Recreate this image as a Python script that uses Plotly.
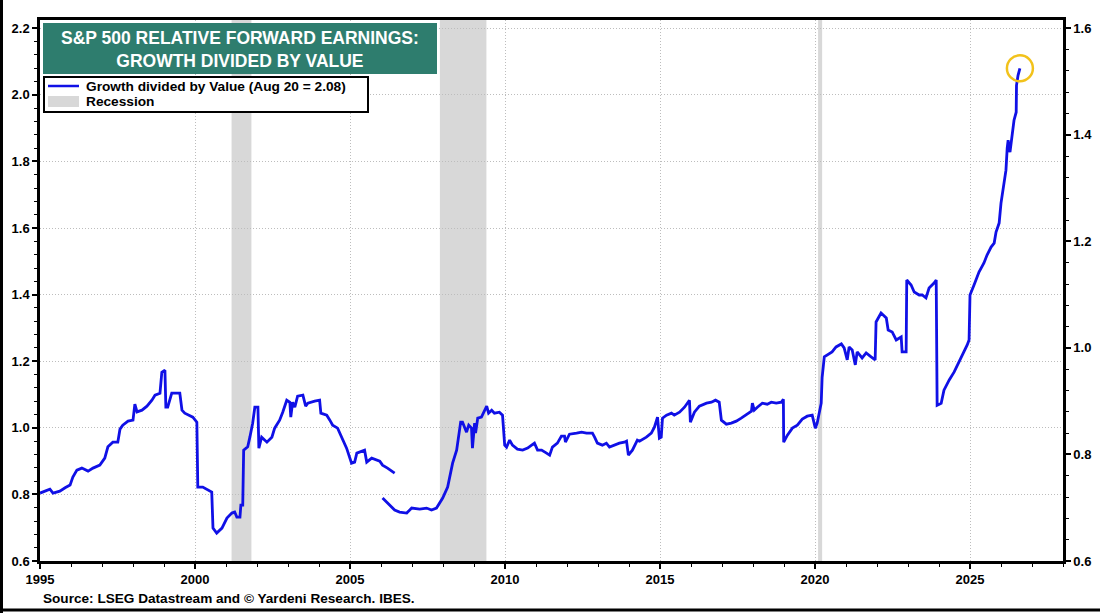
import plotly.graph_objects as go

# Growth / Value relative forward earnings
seg1_years = [1995.0, 1995.05, 1995.32, 1995.42, 1995.64, 1995.81, 1995.97, 1996.06, 1996.19, 1996.35,
              1996.55, 1996.71, 1996.93, 1997.09, 1997.19, 1997.35, 1997.51, 1997.58, 1997.67, 1997.84,
              1998.0, 1998.06, 1998.13, 1998.29, 1998.45, 1998.61, 1998.71, 1998.87, 1998.93, 1999.03,
              1999.06, 1999.12, 1999.25, 1999.51, 1999.58, 1999.67, 1999.93, 2000.06, 2000.09, 2000.25,
              2000.54, 2000.58, 2000.70, 2000.87, 2001.03, 2001.19, 2001.28, 2001.35, 2001.45, 2001.48,
              2001.54, 2001.57, 2001.70, 2001.77, 2001.86, 2001.93, 2002.03, 2002.06, 2002.15, 2002.32,
              2002.48, 2002.57, 2002.73, 2002.83, 2002.96, 2003.06, 2003.09, 2003.15, 2003.22, 2003.31,
              2003.48, 2003.57, 2003.64, 2003.86, 2004.02, 2004.06, 2004.25, 2004.35, 2004.44, 2004.60,
              2004.73, 2004.83, 2004.89, 2005.05, 2005.15, 2005.22, 2005.47, 2005.54, 2005.70, 2005.96,
              2006.05, 2006.21, 2006.44]
seg1_values = [0.804, 0.806, 0.816, 0.804, 0.81, 0.82, 0.828, 0.852, 0.873, 0.879,
               0.87, 0.879, 0.888, 0.909, 0.943, 0.957, 0.957, 0.996, 1.008, 1.02,
               1.023, 1.071, 1.048, 1.053, 1.065, 1.083, 1.098, 1.104, 1.167, 1.173,
               1.062, 1.062, 1.104, 1.104, 1.053, 1.044, 1.032, 1.017, 0.822, 0.822,
               0.807, 0.699, 0.684, 0.699, 0.729, 0.744, 0.747, 0.732, 0.732, 0.768,
               0.768, 0.933, 0.943, 0.972, 1.014, 1.062, 1.062, 0.939, 0.972, 0.957,
               0.972, 0.999, 1.023, 1.047, 1.083, 1.077, 1.032, 1.077, 1.062, 1.095,
               1.098, 1.065, 1.074, 1.08, 1.083, 1.044, 1.038, 1.023, 1.008, 0.999,
               0.972, 0.954, 0.939, 0.894, 0.897, 0.924, 0.933, 0.897, 0.909, 0.90,
               0.888, 0.879, 0.864]

seg2_years = [2006.05, 2006.18, 2006.28, 2006.44, 2006.60, 2006.83, 2006.99, 2007.25, 2007.47, 2007.63,
              2007.79, 2007.89, 2007.99, 2008.15, 2008.31, 2008.44, 2008.57, 2008.63, 2008.76, 2008.83,
              2008.92, 2008.95, 2009.02, 2009.05, 2009.12, 2009.24, 2009.41, 2009.47, 2009.57, 2009.66,
              2009.82, 2009.92, 2009.99, 2010.05, 2010.15, 2010.24, 2010.40, 2010.57, 2010.73, 2010.86,
              2010.95, 2011.05, 2011.18, 2011.34, 2011.44, 2011.53, 2011.69, 2011.82, 2011.92, 2011.95,
              2012.08, 2012.31, 2012.47, 2012.63, 2012.82, 2012.89, 2012.98, 2013.14, 2013.27, 2013.37,
              2013.53, 2013.69, 2013.85, 2013.92, 2013.98, 2014.11, 2014.27, 2014.34, 2014.56, 2014.72,
              2014.82, 2014.92, 2014.98, 2015.04, 2015.08, 2015.21, 2015.37, 2015.46, 2015.63, 2015.79,
              2015.95, 2015.98, 2016.11, 2016.27, 2016.50, 2016.66, 2016.79, 2016.91, 2016.98, 2017.14,
              2017.30, 2017.46, 2017.62, 2017.78, 2017.95, 2017.98, 2018.04, 2018.14, 2018.30, 2018.46,
              2018.59, 2018.75, 2018.91, 2018.98, 2018.99, 2019.11, 2019.27, 2019.43, 2019.59, 2019.75,
              2019.91, 2020.01, 2020.07, 2020.20, 2020.23, 2020.30, 2020.39, 2020.55, 2020.68, 2020.85,
              2020.94, 2021.04, 2021.10, 2021.20, 2021.30, 2021.36, 2021.52, 2021.65, 2021.81, 2021.94,
              2021.97, 2022.13, 2022.30, 2022.36, 2022.49, 2022.62, 2022.78, 2022.81, 2022.94, 2022.96,
              2023.10, 2023.20, 2023.36, 2023.46, 2023.58, 2023.68, 2023.84, 2023.91, 2023.94, 2024.07,
              2024.16, 2024.33, 2024.49, 2024.65, 2024.81, 2024.91, 2024.97, 2025.00, 2025.13, 2025.29,
              2025.45, 2025.55, 2025.68, 2025.78, 2025.84, 2025.94, 2026.00, 2026.07, 2026.16, 2026.20,
              2026.23, 2026.29, 2026.36, 2026.42, 2026.49, 2026.50, 2026.55, 2026.61]
seg2_values = [0.789, 0.777, 0.768, 0.753, 0.747, 0.744, 0.759, 0.756, 0.759, 0.753,
               0.759, 0.774, 0.789, 0.822, 0.894, 0.933, 1.017, 1.017, 0.987, 1.008,
               0.999, 0.939, 1.014, 0.984, 1.029, 1.032, 1.065, 1.044, 1.053, 1.044,
               1.047, 1.038, 0.948, 0.942, 0.963, 0.948, 0.936, 0.933, 0.939, 0.948,
               0.954, 0.933, 0.933, 0.924, 0.918, 0.942, 0.954, 0.975, 0.975, 0.957,
               0.981, 0.984, 0.987, 0.984, 0.984, 0.972, 0.954, 0.948, 0.954, 0.942,
               0.948, 0.954, 0.957, 0.96, 0.918, 0.933, 0.963, 0.96, 0.972, 0.984,
               1.002, 1.032, 0.969, 0.972, 1.029, 1.038, 1.044, 1.038, 1.047, 1.062,
               1.083, 1.017, 1.047, 1.065, 1.074, 1.077, 1.083, 1.077, 1.023, 1.011,
               1.014, 1.02, 1.029, 1.038, 1.05, 1.074, 1.053, 1.062, 1.074, 1.071,
               1.077, 1.074, 1.077, 1.086, 0.957, 0.978, 0.999, 1.008, 1.026, 1.035,
               1.038, 0.999, 1.014, 1.074, 1.152, 1.213, 1.219, 1.228, 1.243, 1.252,
               1.24, 1.204, 1.243, 1.234, 1.189, 1.228, 1.21, 1.225, 1.213, 1.204,
               1.318, 1.345, 1.33, 1.294, 1.288, 1.264, 1.273, 1.228, 1.228, 1.444,
               1.429, 1.408, 1.399, 1.399, 1.39, 1.42, 1.435, 1.444, 1.068, 1.074,
               1.113, 1.144, 1.168, 1.198, 1.228, 1.249, 1.264, 1.399, 1.429, 1.468,
               1.495, 1.519, 1.543, 1.555, 1.588, 1.615, 1.675, 1.714, 1.774, 1.84,
               1.864, 1.828, 1.879, 1.924, 1.948, 2.029, 2.059, 2.08]

rec_start = [2001.18, 2007.90, 2020.10]
rec_end = [2001.82, 2009.40, 2020.23]

x_ticks = [1995, 2000, 2005, 2010, 2015, 2020, 2025]

FONT = "Liberation Sans, Arial, sans-serif"
BLUE = "#1010E6"
W, H = 1100, 613
L, R, T, B = 40, 37, 20, 52


# pixel -> paper helpers for the decorations
def px(x):
    return (x - L) / (W - L - R)


def py(y):
    return (H - B - y) / (H - T - B)


fig = go.Figure()

fig.add_trace(go.Scatter(x=seg1_years, y=seg1_values, mode="lines",
                         line=dict(color=BLUE, width=2.8), showlegend=False, hoverinfo="x+y"))
fig.add_trace(go.Scatter(x=seg2_years, y=seg2_values, mode="lines",
                         line=dict(color=BLUE, width=2.8), showlegend=False, hoverinfo="x+y"))
# keeps the right-hand axis (a second scale for the same series) drawn
fig.add_trace(go.Scatter(x=seg2_years[-1:], y=[None], yaxis="y2", mode="lines",
                         showlegend=False, hoverinfo="skip"))

for x0, x1 in zip(rec_start, rec_end):
    fig.add_shape(type="rect", xref="x", yref="y domain", x0=x0, x1=x1, y0=0, y1=1,
                  fillcolor="#D8D8D8", line=dict(width=0), layer="below")

# yellow circle round the latest reading
fig.add_shape(type="circle", xref="x", yref="y", xsizemode="pixel", ysizemode="pixel",
              xanchor=seg2_years[-1], yanchor=seg2_values[-1], x0=-13, x1=13, y0=-13, y1=13,
              line=dict(color="#F2C21B", width=2.5))

# title box
fig.add_shape(type="rect", xref="paper", yref="paper", x0=px(43), x1=px(437), y0=py(74), y1=py(23),
              fillcolor="#2E7D6E", line=dict(width=0), layer="above")
fig.add_annotation(xref="paper", yref="paper", x=px(240), y=py(49), xanchor="center", yanchor="middle",
                   showarrow=False,
                   text="S&P 500 RELATIVE FORWARD EARNINGS:<br>GROWTH DIVIDED BY VALUE",
                   font=dict(family=FONT, size=17.5, color="white", weight="bold"), align="center")

# legend box
fig.add_shape(type="rect", xref="paper", yref="paper", x0=px(44), x1=px(368), y0=py(112), y1=py(77),
              fillcolor="white", line=dict(color="black", width=2), layer="above")
fig.add_shape(type="line", xref="paper", yref="paper", x0=px(48), x1=px(79), y0=py(86), y1=py(86),
              line=dict(color=BLUE, width=2.5), layer="above")
fig.add_shape(type="rect", xref="paper", yref="paper", x0=px(48), x1=px(79), y0=py(107), y1=py(96),
              fillcolor="#D8D8D8", line=dict(width=0), layer="above")
fig.add_annotation(xref="paper", yref="paper", x=px(84), y=py(86), xanchor="left", yanchor="middle",
                   showarrow=False, text="Growth divided by Value (Aug 20 = 2.08)",
                   font=dict(family=FONT, size=13.7, color="black", weight="bold"))
fig.add_annotation(xref="paper", yref="paper", x=px(84), y=py(101), xanchor="left", yanchor="middle",
                   showarrow=False, text="Recession",
                   font=dict(family=FONT, size=13.7, color="black", weight="bold"))

# source line
fig.add_annotation(xref="paper", yref="paper", x=px(41), y=py(598), xanchor="left", yanchor="middle",
                   showarrow=False, text="Source: LSEG Datastream and © Yardeni Research. IBES.",
                   font=dict(family=FONT, size=13.6, color="black", weight="bold"))

# outer frame on left and bottom
fig.add_shape(type="line", xref="paper", yref="paper", x0=px(1.5), x1=px(1.5), y0=py(613), y1=py(0),
              line=dict(color="black", width=3), layer="above")
fig.add_shape(type="line", xref="paper", yref="paper", x0=px(0), x1=px(1100), y0=py(610), y1=py(610),
              line=dict(color="black", width=3), layer="above")

GRID_DASH = "1px,2px"
tickfont = dict(family=FONT, size=13, color="black", weight="bold")
fig.update_layout(
    width=W, height=H,
    margin=dict(l=L, r=R, t=T, b=B, autoexpand=False),
    paper_bgcolor="white", plot_bgcolor="white",
    showlegend=False,
    xaxis=dict(range=[1995, 2028], tickmode="array", tickvals=x_ticks, ticktext=[str(v) for v in x_ticks],
               showgrid=True, gridcolor="#BDBDBD", griddash=GRID_DASH, gridwidth=1,
               showline=True, linecolor="black", linewidth=2.5, mirror=True,
               ticks="outside", ticklen=5, tickwidth=1.5, tickcolor="black", tickfont=tickfont,
               minor=dict(dtick=1, tick0=1995, ticks="outside", ticklen=3, tickwidth=1, tickcolor="black",
                          showgrid=False),
               zeroline=False),
    yaxis=dict(range=[0.6, 2.225], tick0=0.6, dtick=0.2, tickformat=".1f",
               showgrid=True, gridcolor="#BDBDBD", griddash=GRID_DASH, gridwidth=1,
               showline=True, linecolor="black", linewidth=2.5,
               ticks="outside", ticklen=5, tickwidth=1.5, tickcolor="black", tickfont=tickfont,
               minor=dict(dtick=0.04, tick0=0.6, ticks="outside", ticklen=3, tickwidth=1, tickcolor="black",
                          showgrid=False),
               zeroline=False),
    yaxis2=dict(overlaying="y", side="right", range=[0.6, 1.6156], tick0=0.6, dtick=0.2, tickformat=".1f",
                showgrid=False, showline=True, linecolor="black", linewidth=2.5,
                ticks="outside", ticklen=5, tickwidth=1.5, tickcolor="black", tickfont=tickfont,
                minor=dict(dtick=0.04, tick0=0.6, ticks="outside", ticklen=3, tickwidth=1, tickcolor="black"),
                zeroline=False),
)

# drop the browser's default body margin so the figure sits at the page corner
fig.write_html("out.html", config={"displayModeBar": False},
               post_script="document.body.style.margin = '0';")
